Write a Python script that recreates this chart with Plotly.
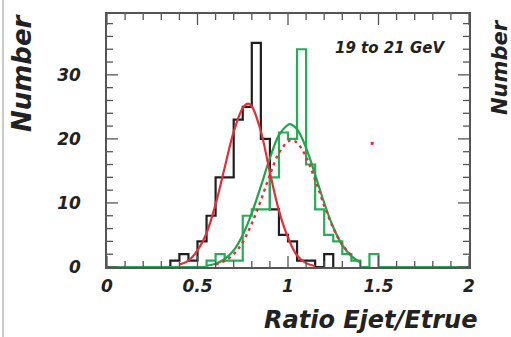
import plotly.graph_objects as go

# ---------------- data ----------------
bin_width = 0.05

black_first_edge = 0.35
black_counts = [1, 2, 1, 4, 8, 14, 14, 23, 25, 35, 20, 9, 5, 4, 1, 1, 0, 2]

green_first_edge = 0.55
green_counts = [1, 2, 1, 1, 8, 9, 9, 14, 21, 20, 34, 16, 9, 5, 4, 2, 1, 0, 2]

red_fit_x = [0.40, 0.45, 0.50, 0.55, 0.60, 0.65, 0.70, 0.75, 0.78, 0.80, 0.85,
             0.90, 0.95, 1.00, 1.05, 1.10, 1.15]
red_fit_y = [0.4, 1.0, 2.6, 5.3, 9.8, 15.5, 21.1, 24.8, 25.5, 25.1, 21.2,
             14.8, 8.8, 4.6, 1.8, 0.6, 0.15]

green_fit_x = [0.55, 0.60, 0.65, 0.70, 0.75, 0.80, 0.85, 0.90, 0.95, 1.00, 1.01,
               1.05, 1.10, 1.15, 1.20, 1.25, 1.30, 1.35, 1.40]
green_fit_y = [0.2, 0.5, 1.25, 2.6, 5.0, 8.4, 12.6, 17.0, 20.6, 22.2, 22.3,
               21.5, 18.6, 14.4, 10.0, 6.2, 3.4, 1.7, 0.7]

red_dash_x = [0.60, 0.65, 0.70, 0.75, 0.80, 0.85, 0.90, 0.95, 1.00, 1.02, 1.05,
              1.10, 1.15, 1.20, 1.25, 1.30, 1.35]
red_dash_y = [0.4, 0.95, 2.0, 3.9, 6.8, 10.4, 14.4, 17.8, 19.6, 19.8, 19.4,
              17.2, 13.6, 9.6, 6.1, 3.5, 1.8]

stray_x = [1.465]
stray_y = [19.3]

x_range = [0, 2]
y_range = [0, 39.5]
x_tick_vals = [0, 0.5, 1, 1.5, 2]
x_tick_text = ["0", "0.5", "1", "1.5", "2"]
y_tick_vals = [0, 10, 20, 30]
y_tick_text = ["0", "10", "20", "30"]
x_minor_step = 0.1
y_minor_step = 2

panel_label = "19 to 21 GeV"
x_title = "Ratio Ejet/Etrue"
y_title = "Number"

# ---------------- helpers ----------------
def step_outline(first_edge, counts, lo=None, hi=None):
    edges = [round(first_edge + i * bin_width, 4) for i in range(len(counts) + 1)]
    xs = [edges[0]] + edges[:-1] + [edges[-1]]
    ys = [0] + list(counts) + [0]
    if lo is not None:
        xs = [lo] + xs
        ys = [0] + ys
    if hi is not None:
        xs = xs + [hi]
        ys = ys + [0]
    return xs, ys

def minor_positions(rng, step, majors):
    out = []
    k = 0
    while True:
        v = round(rng[0] + k * step, 6)
        if v > rng[1] + 1e-9:
            break
        if all(abs(v - m) > 1e-9 for m in majors):
            out.append(v)
        k += 1
    return out

W, H = 511, 337
L, R, T, B = 107, 42, 14, 70
PW, PH = W - L - R, H - T - B

def px_x(px):
    return (px - L) / PW

def px_y(py):
    return (H - B - py) / PH

BLACK = "#1e1e1e"
GREEN = "#1fa64a"
GREEN_H = "#26ad5a"
RED = "#e42f3a"
FRAME = "#555555"
TXT = "#222222"
FONT = "DejaVu Sans"
MAJOR_LEN, MINOR_LEN = 11, 6

fig = go.Figure()

bx, by = step_outline(black_first_edge, black_counts)
fig.add_trace(go.Scatter(x=bx, y=by, mode="lines", line=dict(color=BLACK, width=2.2, shape="hv"),
                         showlegend=False, hoverinfo="skip"))

gx, gy = step_outline(green_first_edge, green_counts, lo=x_range[0], hi=x_range[1])
fig.add_trace(go.Scatter(x=gx, y=gy, mode="lines", line=dict(color=GREEN_H, width=2.2, shape="hv"),
                         showlegend=False, hoverinfo="skip"))

fig.add_trace(go.Scatter(x=green_fit_x, y=green_fit_y, mode="lines",
                         line=dict(color=GREEN, width=2.2, shape="spline"),
                         showlegend=False, hoverinfo="skip"))

fig.add_trace(go.Scatter(x=red_dash_x, y=red_dash_y, mode="lines",
                         line=dict(color=RED, width=2.4, shape="spline", dash="3px,4px"),
                         showlegend=False, hoverinfo="skip"))

fig.add_trace(go.Scatter(x=red_fit_x, y=red_fit_y, mode="lines",
                         line=dict(color=RED, width=2.2, shape="spline"),
                         showlegend=False, hoverinfo="skip"))

fig.add_trace(go.Scatter(x=stray_x, y=stray_y, mode="markers",
                         marker=dict(color=RED, size=3, symbol="square"),
                         showlegend=False, hoverinfo="skip"))

tick_font = dict(family=FONT, size=17, color=TXT, weight="bold", style="italic")

fig.update_layout(
    xaxis=dict(range=x_range, tickmode="array", tickvals=x_tick_vals, ticktext=x_tick_text,
               ticks="", showline=True, linecolor=FRAME, linewidth=1.5, mirror=True,
               showgrid=False, zeroline=False, tickfont=tick_font, ticklabelstandoff=3),
    yaxis=dict(range=y_range, tickmode="array", tickvals=y_tick_vals, ticktext=y_tick_text,
               ticks="", showline=True, linecolor=FRAME, linewidth=1.5, mirror=True,
               showgrid=False, zeroline=False, tickfont=tick_font, ticklabelstandoff=21),
)

# inside tick marks on all four sides, placed at the tick values
tick_line = dict(color=FRAME, width=1.3)
def xtick(v, length):
    fig.add_shape(type="line", xref="x", yref="y", ysizemode="pixel", yanchor=y_range[0],
                  x0=v, x1=v, y0=0, y1=length, line=tick_line)
    fig.add_shape(type="line", xref="x", yref="y", ysizemode="pixel", yanchor=y_range[1],
                  x0=v, x1=v, y0=0, y1=-length, line=tick_line)
def ytick(v, length):
    fig.add_shape(type="line", xref="x", yref="y", xsizemode="pixel", xanchor=x_range[0],
                  y0=v, y1=v, x0=0, x1=length, line=tick_line)
    fig.add_shape(type="line", xref="x", yref="y", xsizemode="pixel", xanchor=x_range[1],
                  y0=v, y1=v, x0=0, x1=-length, line=tick_line)

for v in x_tick_vals:
    xtick(v, MAJOR_LEN)
for v in minor_positions(x_range, x_minor_step, x_tick_vals):
    xtick(v, MINOR_LEN)
for v in y_tick_vals:
    ytick(v, MAJOR_LEN)
for v in minor_positions(y_range, y_minor_step, y_tick_vals):
    ytick(v, MINOR_LEN)

annots = [
    dict(text=panel_label, x=px_x(390), y=px_y(48), font=dict(family=FONT, size=15, color=TXT,
         weight="bold", style="italic")),
    dict(text=x_title, x=px_x(370), y=px_y(320), font=dict(family=FONT, size=24, color=TXT,
         weight="bold", style="italic")),
    dict(text=y_title, x=px_x(22), y=px_y(73), textangle=-90, font=dict(family=FONT, size=26,
         color=TXT, weight="bold", style="italic")),
    dict(text=y_title, x=px_x(500), y=px_y(67), textangle=-90, font=dict(family=FONT, size=21,
         color=TXT, weight="bold", style="italic")),
]
for a in annots:
    a.update(xref="paper", yref="paper", showarrow=False, xanchor="center", yanchor="middle")
fig.update_layout(annotations=annots)

fig.add_shape(type="line", xref="paper", yref="paper", x0=px_x(3), x1=px_x(3), y0=px_y(0), y1=px_y(H),
              line=dict(color="#b8b8b8", width=1.5))

fig.update_layout(width=W, height=H, margin=dict(l=L, r=R, t=T, b=B),
                  paper_bgcolor="white", plot_bgcolor="white")

fig.write_html("out.html")
